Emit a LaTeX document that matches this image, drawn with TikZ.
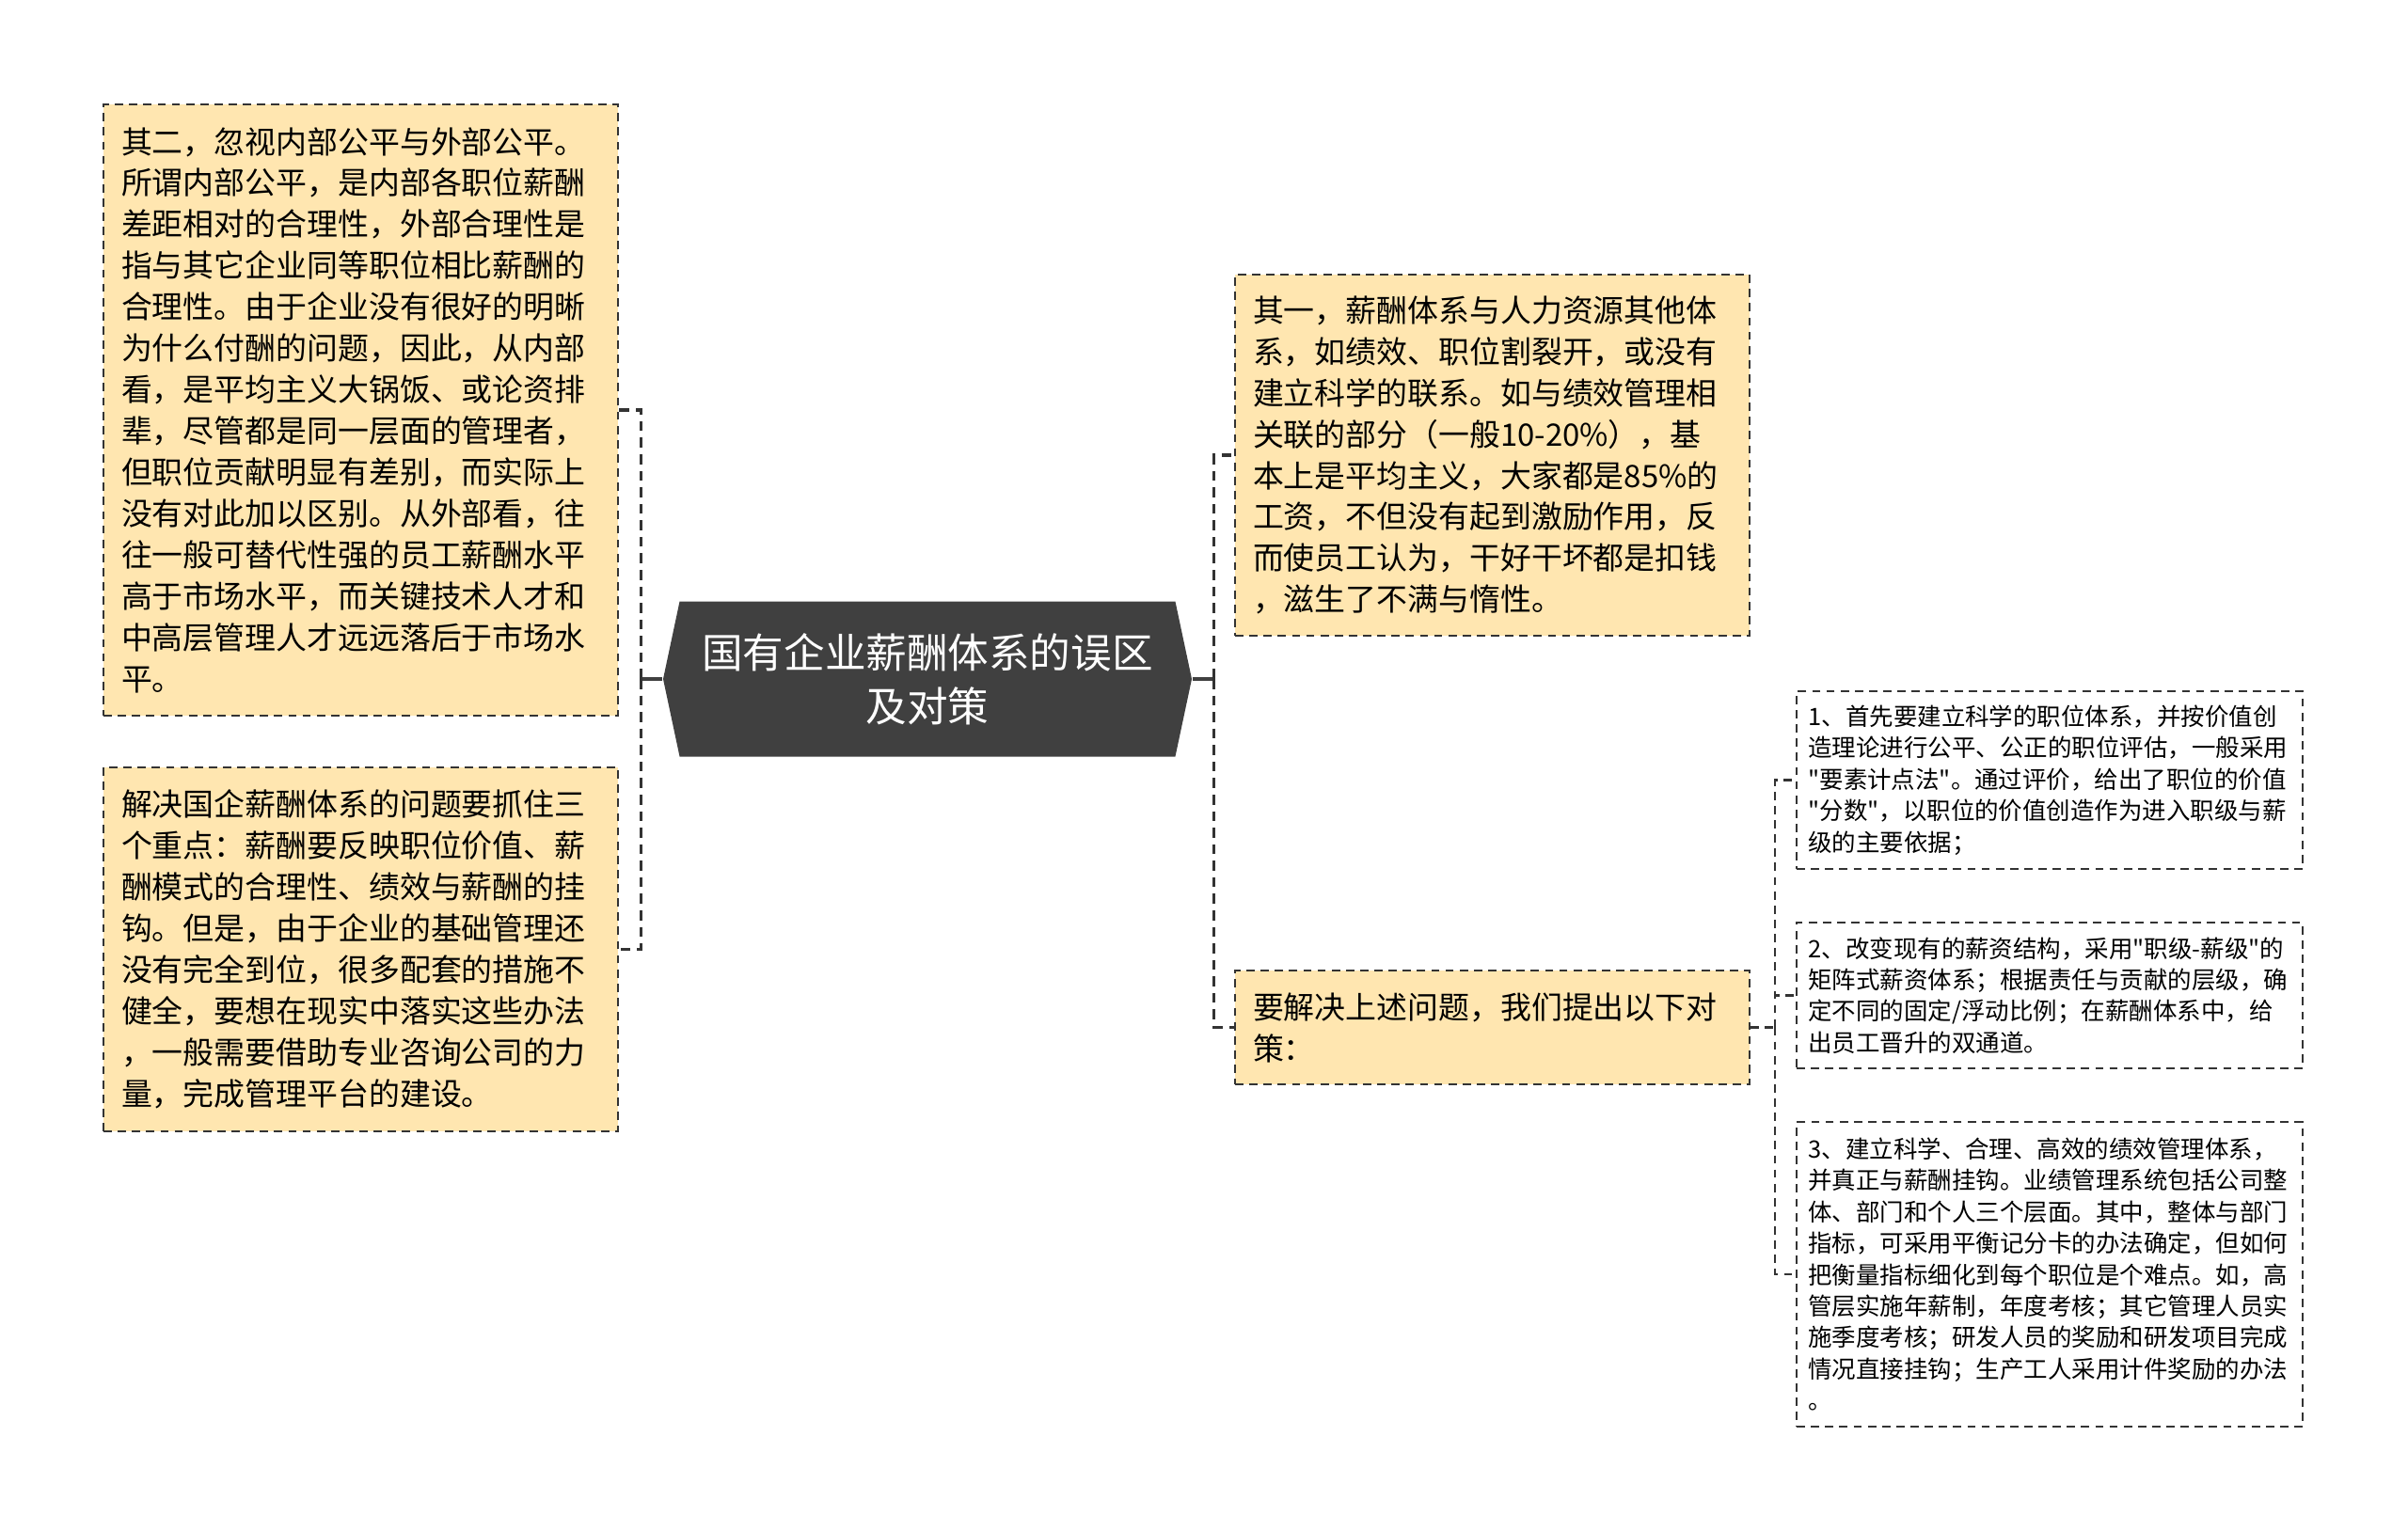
\documentclass[tikz,border=0pt]{standalone}
\usepackage{fontspec}
\setmainfont{Noto Sans CJK SC}[Ligatures=TeXOff]
\usetikzlibrary{shapes.symbols}

\definecolor{topicgray}{HTML}{404040}
\definecolor{notefill}{HTML}{FFE6B0}
\definecolor{edgegray}{HTML}{333333}

\tikzset{
    topic/.style={signal, signal to=west and east, signal pointer angle=156,
        fill=topicgray, text=white, align=center, inner sep=0pt,
        minimum width=5.62cm, minimum height=1.65cm,
        font=\fontsize{12.4}{16.2}\selectfont},
    note/.style={draw=edgegray, line width=0.6pt, dash pattern=on 2.5pt off 1.8pt,
        fill=notefill, align=left, inner xsep=5.4pt, inner ysep=0pt,
        text width=144.8pt, font=\fontsize{9.36}{12.5}\selectfont},
    subnote/.style={draw=edgegray, line width=0.5pt, dash pattern=on 2.5pt off 1.8pt,
        align=left, inner xsep=3.5pt, inner ysep=0pt,
        text width=146pt, font=\fontsize{7.25}{9.5}\selectfont},
    stem/.style={draw=topicgray, line width=1.2pt},
    branch/.style={draw=edgegray, line width=1pt, dash pattern=on 3pt off 2pt},
    twig/.style={draw=edgegray, line width=0.6pt, dash pattern=on 2.5pt off 1.8pt},
}

\begin{document}
\begin{tikzpicture}
    \useasboundingbox (0,0) rectangle (25.6,-16.27);

    \node[topic] (root) at (9.86,-7.22) {国有企业薪酬体系的误区\\及对策};

    \node[note, minimum height=6.50cm] (second) at (3.835,-4.36)
        {其二，忽视内部公平与外部公平。\\所谓内部公平，是内部各职位薪酬\\差距相对的合理性，外部合理性是\\指与其它企业同等职位相比薪酬的\\合理性。由于企业没有很好的明晰\\为什么付酬的问题，因此，从内部\\看，是平均主义大锅饭、或论资排\\辈，尽管都是同一层面的管理者，\\但职位贡献明显有差别，而实际上\\没有对此加以区别。从外部看，往\\往一般可替代性强的员工薪酬水平\\高于市场水平，而关键技术人才和\\中高层管理人才远远落后于市场水\\平。};
    \node[note, minimum height=3.87cm] (solve) at (3.835,-10.095)
        {解决国企薪酬体系的问题要抓住三\\个重点：薪酬要反映职位价值、薪\\酬模式的合理性、绩效与薪酬的挂\\钩。但是，由于企业的基础管理还\\没有完全到位，很多配套的措施不\\健全，要想在现实中落实这些办法\\，一般需要借助专业咨询公司的力\\量，完成管理平台的建设。};
    \node[note, minimum height=3.84cm] (first) at (15.865,-4.84)
        {其一，薪酬体系与人力资源其他体\\系，如绩效、职位割裂开，或没有\\建立科学的联系。如与绩效管理相\\关联的部分（一般10-20\%），基\\本上是平均主义，大家都是85\%的\\工资，不但没有起到激励作用，反\\而使员工认为，干好干坏都是扣钱\\，滋生了不满与惰性。};
    \node[note, minimum height=1.21cm] (measures) at (15.865,-10.925)
        {要解决上述问题，我们提出以下对\\策：};

    \node[subnote, minimum height=1.89cm] (grade) at (21.79,-8.295)
        {1、首先要建立科学的职位体系，并按价值创\\造理论进行公平、公正的职位评估，一般采用\\"要素计点法"。通过评价，给出了职位的价值\\"分数"，以职位的价值创造作为进入职级与薪\\级的主要依据；};
    \node[subnote, minimum height=1.55cm] (matrix) at (21.79,-10.585)
        {2、改变现有的薪资结构，采用"职级-薪级"的\\矩阵式薪资体系；根据责任与贡献的层级，确\\定不同的固定/浮动比例；在薪酬体系中，给\\出员工晋升的双通道。};
    \node[subnote, minimum height=3.24cm] (perform) at (21.79,-13.55)
        {3、建立科学、合理、高效的绩效管理体系，\\并真正与薪酬挂钩。业绩管理系统包括公司整\\体、部门和个人三个层面。其中，整体与部门\\指标，可采用平衡记分卡的办法确定，但如何\\把衡量指标细化到每个职位是个难点。如，高\\管层实施年薪制，年度考核；其它管理人员实\\施季度考核；研发人员的奖励和研发项目完成\\情况直接挂钩；生产工人采用计件奖励的办法\\。};

    % left side
    \draw[stem] (root.west) -- ++(-0.23,0) coordinate (ljoint);
    \draw[branch] (ljoint) |- (second.east);
    \draw[branch] (ljoint) |- (solve.east);

    % right side
    \draw[stem] (root.east) -- ++(0.23,0) coordinate (rjoint);
    \draw[branch] (rjoint) |- (first.west);
    \draw[branch] (rjoint) |- (measures.west);

    % measures
    \draw[twig] (measures.east) -- ++(0.26,0) coordinate (sjoint);
    \draw[twig] (sjoint) |- (grade.west);
    \draw[twig] (sjoint) |- (matrix.west);
    \draw[twig] (sjoint) |- (perform.west);
\end{tikzpicture}
\end{document}
